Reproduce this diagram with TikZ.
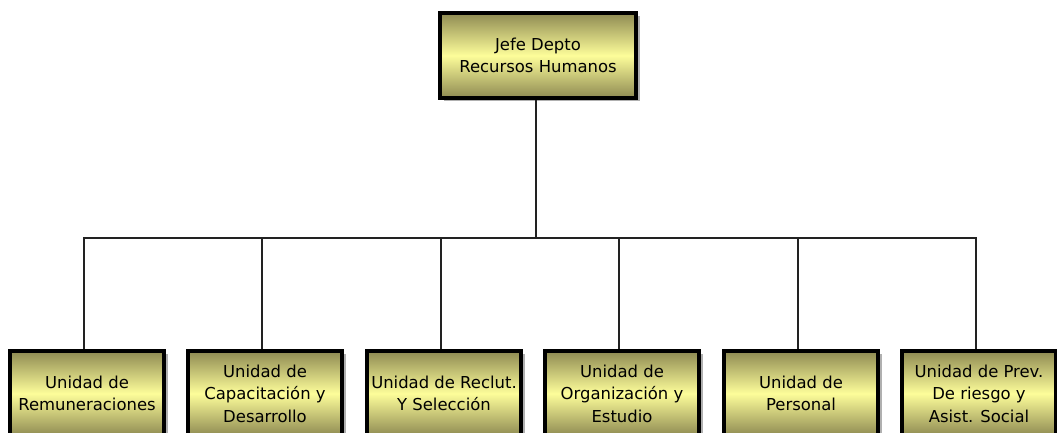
\documentclass[tikz,border=0pt]{standalone}
\usepackage{fontspec}
\setmainfont{DejaVu Sans}
\usetikzlibrary{shadows}
\definecolor{oliveedge}{HTML}{8E8A52}
\definecolor{lightyel}{HTML}{FDFD9A}
\definecolor{shadowgray}{HTML}{B0B0B0}
\definecolor{linkgray}{HTML}{222222}
\tikzset{
  orgbox/.style={draw=black, line width=4bp, top color=oliveedge, bottom color=oliveedge,
    middle color=lightyel, align=center, font=\fontsize{16.5}{22.5}\selectfont,
    inner sep=0pt, minimum width=154bp, minimum height=85bp,
    drop shadow={shadow xshift=3.5bp, shadow yshift=-3.5bp, fill=shadowgray, opacity=1}},
  link/.style={draw=linkgray, line width=1.6bp}
}
\begin{document}
\begin{tikzpicture}[x=1bp,y=-1bp]
\useasboundingbox (0,0) rectangle (1057,433);
\clip (0,0) rectangle (1057,433);
\node[orgbox, minimum width=196bp, text depth=-6bp] (jefe) at (538,55.5) {Jefe Depto\\Recursos Humanos};
\coordinate (bus) at (536,238);
\node[orgbox] (b1) at (87,393.5) {Unidad de\\Remuneraciones};
\node[orgbox] (b2) at (265,393.5) {Unidad de\\Capacitación y\\Desarrollo};
\node[orgbox] (b3) at (444,393.5) {Unidad de Reclut.\\Y Selección};
\node[orgbox] (b4) at (622,393.5) {Unidad de\\Organización y\\Estudio};
\node[orgbox] (b5) at (801,393.5) {Unidad de\\Personal};
\node[orgbox] (b6) at (979,393.5) {Unidad de Prev.\\De riesgo y\\Asist. Social};
\draw[link] ([xshift=-2bp]jefe.south) -- ([xshift=-2bp]jefe.south |- bus);
\draw[link] ([xshift=-3bp]b1.north) |- (bus) -| ([xshift=-3bp]b6.north);
\foreach \b in {b2,b3,b4,b5}{
  \draw[link] ([xshift=-3bp]\b.north) -- ([xshift=-3bp]\b.north |- bus);
}
\end{tikzpicture}
\end{document}
